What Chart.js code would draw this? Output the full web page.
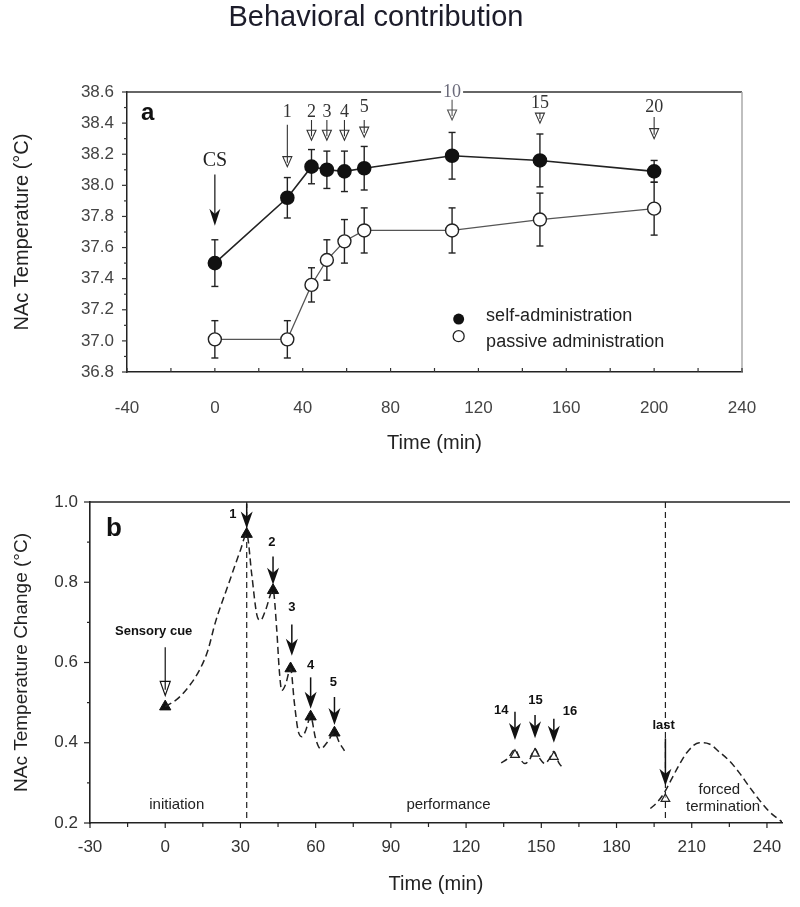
<!DOCTYPE html>
<html>
<head>
<meta charset="utf-8">
<script src="https://cdn.jsdelivr.net/npm/chart.js@4.4.1/dist/chart.umd.min.js"></script>
<style>
  body { margin: 0; background: #fff; width: 800px; height: 907px; position: relative; overflow: hidden;
         font-family: 'Liberation Sans', Arial, sans-serif; }
  #title { position: absolute; left: 0; top: -1px; width: 752px; text-align: center; font-size: 29px;
           line-height: 34px; color: #1c1c2a; }
  #chartA { position: absolute; left: 0; top: 0; }
  #chartB { position: absolute; left: 0; top: 460px; }
</style>
</head>
<body>
<canvas id="chartA" width="800" height="460"></canvas>
<canvas id="chartB" width="800" height="447"></canvas>
<div id="title">Behavioral contribution</div>
<script>
// ---- panel a : NAc temperature, self vs passive ----
const timeA = [0, 33, 44, 51, 59, 68, 108, 148, 200];
const selfAdmin = [37.50, 37.92, 38.12, 38.10, 38.09, 38.11, 38.19, 38.16, 38.09];
const selfErr = [0.15, 0.13, 0.11, 0.12, 0.13, 0.14, 0.15, 0.17, 0.07];
const passiveAdmin = [37.01, 37.01, 37.36, 37.52, 37.64, 37.71, 37.71, 37.78, 37.85];
const passiveErr = [0.12, 0.12, 0.11, 0.13, 0.14, 0.145, 0.145, 0.17, 0.17];

// injection arrows (number, time, label / shaft start / tip in °C)
const injLabelsA = ['1', '2', '3', '4', '5', '10', '15', '20'];
const injTimesA = [33, 44, 51, 59, 68, 108, 148, 200];
const injLabelYA = [38.47, 38.47, 38.47, 38.47, 38.50, 38.60, 38.53, 38.50];
const injFromA = [38.39, 38.42, 38.42, 38.42, 38.42, 38.55, 38.46, 38.44];
const injTipA = [38.12, 38.29, 38.29, 38.29, 38.31, 38.42, 38.40, 38.30];
const csA = { time: 0, labelY: 38.16, from: 38.07, tip: 37.74 };
const legendA = { markX: 111, textX: 123.5, markY: [37.14, 37.03], textY: [37.16, 36.995],
                  text: ['self-administration', 'passive administration'] };

// ---- panel b : NAc temperature change ----
const initTime = [0, 5, 10, 14, 17, 20, 25.5, 30, 32.5, 34.5, 36.5, 38, 40, 43, 44.5, 45.5, 46.5, 48, 50,
                  51.5, 53, 54.5, 56, 58, 60, 62, 64.5, 67.5, 69.5, 71.5];
const initChange = [0.49, 0.51, 0.545, 0.585, 0.63, 0.70, 0.80, 0.88, 0.92, 0.82, 0.72, 0.705, 0.73, 0.78,
                    0.68, 0.58, 0.53, 0.545, 0.585, 0.50, 0.43, 0.415, 0.43, 0.465, 0.41, 0.385, 0.40,
                    0.425, 0.40, 0.38];
const perfTime = [134, 136.5, 139.5, 141.5, 143.5, 145.5, 147.5, 149.5, 151.5, 153, 155, 157, 159];
const perfChange = [0.35, 0.36, 0.383, 0.36, 0.348, 0.36, 0.385, 0.36, 0.348, 0.358, 0.378, 0.35, 0.335];
const endTime = [193.5, 196, 199, 202, 205, 208, 213, 217, 221, 225, 229, 233, 237, 241, 246];
const endChange = [0.236, 0.25, 0.275, 0.31, 0.345, 0.375, 0.40, 0.397, 0.377, 0.355, 0.325, 0.29, 0.257,
                   0.228, 0.203];
const peakTimeB = [0, 32.5, 43, 50, 58, 67.5];
const peakChangeB = [0.49, 0.92, 0.78, 0.585, 0.465, 0.425];
const openTimeB = [139.5, 147.5, 155, 199.5];
const openChangeB = [0.37, 0.373, 0.365, 0.26];
const dividersB = [32.5, 199.5];

const cueLabelsB = ['1', '2', '3', '4', '5', '14', '15', '16', 'last'];
const cueTimesB = [32.5, 43, 50.5, 58, 67.5, 139.5, 147.5, 155, 199.5];
const cueLabelXB = [27, 42.5, 50.5, 58, 67.1, 134, 147.7, 161.4, 198.8];
const cueLabelYB = [0.97, 0.90, 0.738, 0.592, 0.55, 0.48, 0.506, 0.477, 0.444];
const cueFromB = [0.996, 0.864, 0.695, 0.563, 0.514, 0.477, 0.469, 0.46, 0.411];
const cueTipB = [0.934, 0.794, 0.617, 0.485, 0.444, 0.407, 0.411, 0.40, 0.293];
const sensoryB = { labelX: -4.6, labelY: 0.677, time: 0, from: 0.638, tip: 0.518 };
const phaseTextB = ['initiation', 'performance', 'forced', 'termination'];
const phaseXB = [4.6, 113, 221, 222.5];
const phaseYB = [0.246, 0.246, 0.282, 0.239];

const SANS = "'Liberation Sans', Arial, sans-serif";
const SERIF = "'Liberation Serif', 'Times New Roman', serif";
Chart.defaults.font.family = SANS;

const pts = (xs, ys) => xs.map((x, i) => ({ x, y: ys[i] }));

function seg(ctx, x1, y1, x2, y2) {
  ctx.beginPath(); ctx.moveTo(x1, y1); ctx.lineTo(x2, y2); ctx.stroke();
}

function arrow(ctx, px, yFrom, yTip, w, h, filled) {
  if (filled) {
    seg(ctx, px, yFrom, px, yTip - h * 0.6);
    ctx.beginPath();
    ctx.moveTo(px, yTip); ctx.lineTo(px - w / 2, yTip - h); ctx.lineTo(px, yTip - h * 0.7);
    ctx.lineTo(px + w / 2, yTip - h); ctx.closePath();
    ctx.fill();
  } else {
    seg(ctx, px, yFrom, px, yTip - h);
    ctx.beginPath();
    ctx.moveTo(px, yTip); ctx.lineTo(px - w / 2, yTip - h); ctx.lineTo(px + w / 2, yTip - h); ctx.closePath();
    ctx.fillStyle = '#fff'; ctx.fill(); ctx.stroke();
    seg(ctx, px, yTip - h, px, yTip - h * 0.4);
  }
}

function text(ctx, str, px, py, font, color, align) {
  ctx.font = font; ctx.fillStyle = color; ctx.textAlign = align || 'center'; ctx.textBaseline = 'middle';
  ctx.fillText(str, px, py);
}

// ---------- panel a extras ----------
const annotA = {
  id: 'annotA',
  beforeDatasetsDraw(chart) {
    const { ctx, chartArea: ca, scales: { x, y } } = chart;
    ctx.save();
    ctx.lineWidth = 1.5; ctx.strokeStyle = '#333';
    seg(ctx, ca.left, ca.top, ca.right, ca.top);
    ctx.strokeStyle = '#aaa';
    seg(ctx, ca.right, ca.top, ca.right, ca.bottom);
    // tick marks
    ctx.strokeStyle = '#333'; ctx.lineWidth = 1.2;
    y.ticks.forEach((t, i) => {
      const py = y.getPixelForValue(t.value);
      seg(ctx, ca.left - 5, py, ca.left, py);
      if (i < y.ticks.length - 1) {
        const pm = y.getPixelForValue(t.value + 0.1);
        seg(ctx, ca.left - 3, pm, ca.left, pm);
      }
    });
    x.ticks.forEach((t, i) => {
      const px = x.getPixelForValue(t.value);
      seg(ctx, px, ca.bottom, px, ca.bottom - 4);
      if (i < x.ticks.length - 1) {
        const pm = x.getPixelForValue(t.value + 20);
        seg(ctx, pm, ca.bottom, pm, ca.bottom - 4);
      }
    });
    // error bars
    ctx.strokeStyle = '#222'; ctx.lineWidth = 1.4;
    [[selfAdmin, selfErr], [passiveAdmin, passiveErr]].forEach(([vals, errs]) => {
      vals.forEach((v, i) => {
        const px = x.getPixelForValue(timeA[i]);
        const top = y.getPixelForValue(v + errs[i]);
        const bot = y.getPixelForValue(v - errs[i]);
        seg(ctx, px, top, px, bot);
        seg(ctx, px - 3.5, top, px + 3.5, top);
        seg(ctx, px - 3.5, bot, px + 3.5, bot);
      });
    });
    ctx.restore();
  },
  afterDatasetsDraw(chart) {
    const { ctx, scales: { x, y } } = chart;
    ctx.save();
    // CS arrow
    const cx = x.getPixelForValue(csA.time);
    text(ctx, 'CS', cx, y.getPixelForValue(csA.labelY), '20px ' + SERIF, '#222');
    ctx.strokeStyle = '#222'; ctx.fillStyle = '#111'; ctx.lineWidth = 1.3;
    arrow(ctx, cx, y.getPixelForValue(csA.from), y.getPixelForValue(csA.tip), 11, 17, true);
    // injection arrows
    injTimesA.forEach((t, i) => {
      const px = x.getPixelForValue(t);
      const ly = y.getPixelForValue(injLabelYA[i]);
      const grey = injLabelsA[i] === '10';
      if (grey) {
        ctx.fillStyle = '#fff';
        ctx.fillRect(px - 11, ly - 9, 22, 16);
      }
      text(ctx, injLabelsA[i], px, ly, '18px ' + SERIF, grey ? '#6a6a7a' : '#333');
      ctx.strokeStyle = grey ? '#555' : '#333'; ctx.lineWidth = 1.1;
      arrow(ctx, px, y.getPixelForValue(injFromA[i]), y.getPixelForValue(injTipA[i]), 9, 10, false);
    });
    // panel letter
    text(ctx, 'a', x.getPixelForValue(-30.6), y.getPixelForValue(38.46), 'bold 24px ' + SANS, '#111');
    // legend
    ctx.lineWidth = 1.3; ctx.strokeStyle = '#222';
    legendA.markY.forEach((my, i) => {
      ctx.beginPath();
      ctx.arc(x.getPixelForValue(legendA.markX), y.getPixelForValue(my), 5.5, 0, Math.PI * 2);
      if (i === 0) { ctx.fillStyle = '#111'; ctx.fill(); } else { ctx.fillStyle = '#fff'; ctx.fill(); ctx.stroke(); }
      text(ctx, legendA.text[i], x.getPixelForValue(legendA.textX), y.getPixelForValue(legendA.textY[i]),
           '18px ' + SANS, '#222', 'left');
    });
    ctx.restore();
  }
};

new Chart(document.getElementById('chartA'), {
  type: 'line',
  data: {
    datasets: [
      { label: 'self-administration', data: pts(timeA, selfAdmin), borderColor: '#222', borderWidth: 1.6,
        pointRadius: 6.5, pointBackgroundColor: '#111', pointBorderColor: '#111', tension: 0 },
      { label: 'passive administration', data: pts(timeA, passiveAdmin), borderColor: '#555', borderWidth: 1.2,
        pointRadius: 6.5, pointBackgroundColor: '#fff', pointBorderColor: '#222', pointBorderWidth: 1.4, tension: 0 }
    ]
  },
  options: {
    responsive: false, animation: false, events: [],
    layout: { padding: { left: 0, right: 58, top: 92, bottom: 0 } },
    plugins: { legend: { display: false }, tooltip: { enabled: false } },
    scales: {
      x: {
        type: 'linear', min: -40, max: 240,
        ticks: { stepSize: 40, padding: 26, color: '#444', font: { size: 17 } },
        grid: { display: false, drawTicks: false }, border: { color: '#222', width: 1.5 },
        title: { display: true, text: 'Time (min)', color: '#222', font: { size: 20 }, padding: { top: 0, bottom: 5 } },
        afterFit: s => { s.height = 88; }
      },
      y: {
        min: 36.8, max: 38.6,
        ticks: { stepSize: 0.2, padding: 13, color: '#444', font: { size: 17 }, callback: v => v.toFixed(1) },
        grid: { display: false, drawTicks: false }, border: { color: '#222', width: 1.5 },
        title: { display: true, text: 'NAc Temperature (°C)', color: '#222', font: { size: 20 }, padding: { top: 10 } },
        afterFit: s => { s.width = 127; }
      }
    }
  },
  plugins: [annotA]
});

// ---------- panel b extras ----------
const annotB = {
  id: 'annotB',
  beforeDatasetsDraw(chart) {
    const { ctx, chartArea: ca, scales: { x, y } } = chart;
    ctx.save();
    ctx.lineWidth = 1.6; ctx.strokeStyle = '#222';
    seg(ctx, ca.left, ca.top, ca.right + 8, ca.top);
    ctx.lineWidth = 1.2;
    y.ticks.forEach((t, i) => {
      const py = y.getPixelForValue(t.value);
      seg(ctx, ca.left - 6, py, ca.left, py);
      if (i < y.ticks.length - 1) {
        const pm = y.getPixelForValue(t.value + 0.1);
        seg(ctx, ca.left - 3, pm, ca.left, pm);
      }
    });
    x.ticks.forEach(t => {
      const px = x.getPixelForValue(t.value);
      seg(ctx, px, ca.bottom, px, ca.bottom + 5);
      const pm = x.getPixelForValue(t.value + 15);
      if (pm < ca.right) seg(ctx, pm, ca.bottom, pm, ca.bottom + 4);
    });
    // phase dividers
    ctx.setLineDash([6, 4]); ctx.lineWidth = 1.2;
    dividersB.forEach(d => {
      const px = x.getPixelForValue(d);
      seg(ctx, px, ca.top, px, ca.bottom);
    });
    ctx.setLineDash([]);
    ctx.restore();
  },
  afterDatasetsDraw(chart) {
    const { ctx, scales: { x, y } } = chart;
    ctx.save();
    ctx.strokeStyle = '#111'; ctx.fillStyle = '#111'; ctx.lineWidth = 1.5;
    cueTimesB.forEach((t, i) => {
      ctx.fillStyle = '#111';
      arrow(ctx, x.getPixelForValue(t), y.getPixelForValue(cueFromB[i]), y.getPixelForValue(cueTipB[i]), 12, 17, true);
      text(ctx, cueLabelsB[i], x.getPixelForValue(cueLabelXB[i]), y.getPixelForValue(cueLabelYB[i]),
           'bold 13px ' + SANS, '#111');
    });
    // sensory cue
    ctx.lineWidth = 1.2;
    arrow(ctx, x.getPixelForValue(sensoryB.time), y.getPixelForValue(sensoryB.from), y.getPixelForValue(sensoryB.tip), 10, 14, false);
    text(ctx, 'Sensory cue', x.getPixelForValue(sensoryB.labelX), y.getPixelForValue(sensoryB.labelY),
         'bold 13px ' + SANS, '#111');
    phaseTextB.forEach((s, i) => {
      text(ctx, s, x.getPixelForValue(phaseXB[i]), y.getPixelForValue(phaseYB[i]), '15px ' + SANS, '#222');
    });
    text(ctx, 'b', x.getPixelForValue(-20.5), y.getPixelForValue(0.934), 'bold 26px ' + SANS, '#111');
    ctx.restore();
  }
};

const dashCurve = (data) => ({ data, borderColor: '#222', borderWidth: 1.5, borderDash: [7, 4], pointRadius: 0,
                               cubicInterpolationMode: 'monotone', fill: false });

new Chart(document.getElementById('chartB'), {
  type: 'line',
  data: {
    datasets: [
      dashCurve(pts(initTime, initChange)),
      dashCurve(pts(perfTime, perfChange)),
      dashCurve(pts(endTime, endChange)),
      { data: pts(peakTimeB, peakChangeB), showLine: false, pointStyle: 'triangle', pointRadius: 6.5,
        pointBackgroundColor: '#111', pointBorderColor: '#111' },
      { data: pts(openTimeB, openChangeB), showLine: false, pointStyle: 'triangle', pointRadius: 5,
        pointBackgroundColor: 'rgba(255,255,255,0.6)', pointBorderColor: '#222', pointBorderWidth: 1.2 }
    ]
  },
  options: {
    responsive: false, animation: false, events: [],
    layout: { padding: { left: 0, right: 18, top: 42, bottom: 0 } },
    plugins: { legend: { display: false }, tooltip: { enabled: false } },
    scales: {
      x: {
        type: 'linear', min: -30, max: 246,
        ticks: { stepSize: 30, includeBounds: false, padding: 14, color: '#333', font: { size: 17 } },
        grid: { display: false, drawTicks: false }, border: { color: '#222', width: 1.6 },
        title: { display: true, text: 'Time (min)', color: '#222', font: { size: 20 }, padding: { top: 0, bottom: 11 } },
        afterFit: s => { s.height = 84; }
      },
      y: {
        min: 0.2, max: 1.0,
        ticks: { stepSize: 0.2, padding: 12, color: '#333', font: { size: 17 }, callback: v => v.toFixed(1) },
        grid: { display: false, drawTicks: false }, border: { color: '#222', width: 1.6 },
        title: { display: true, text: 'NAc Temperature Change (°C)', color: '#222', font: { size: 19 }, padding: { top: 10 } },
        afterFit: s => { s.width = 90; }
      }
    }
  },
  plugins: [annotB]
});
</script>
</body>
</html>
